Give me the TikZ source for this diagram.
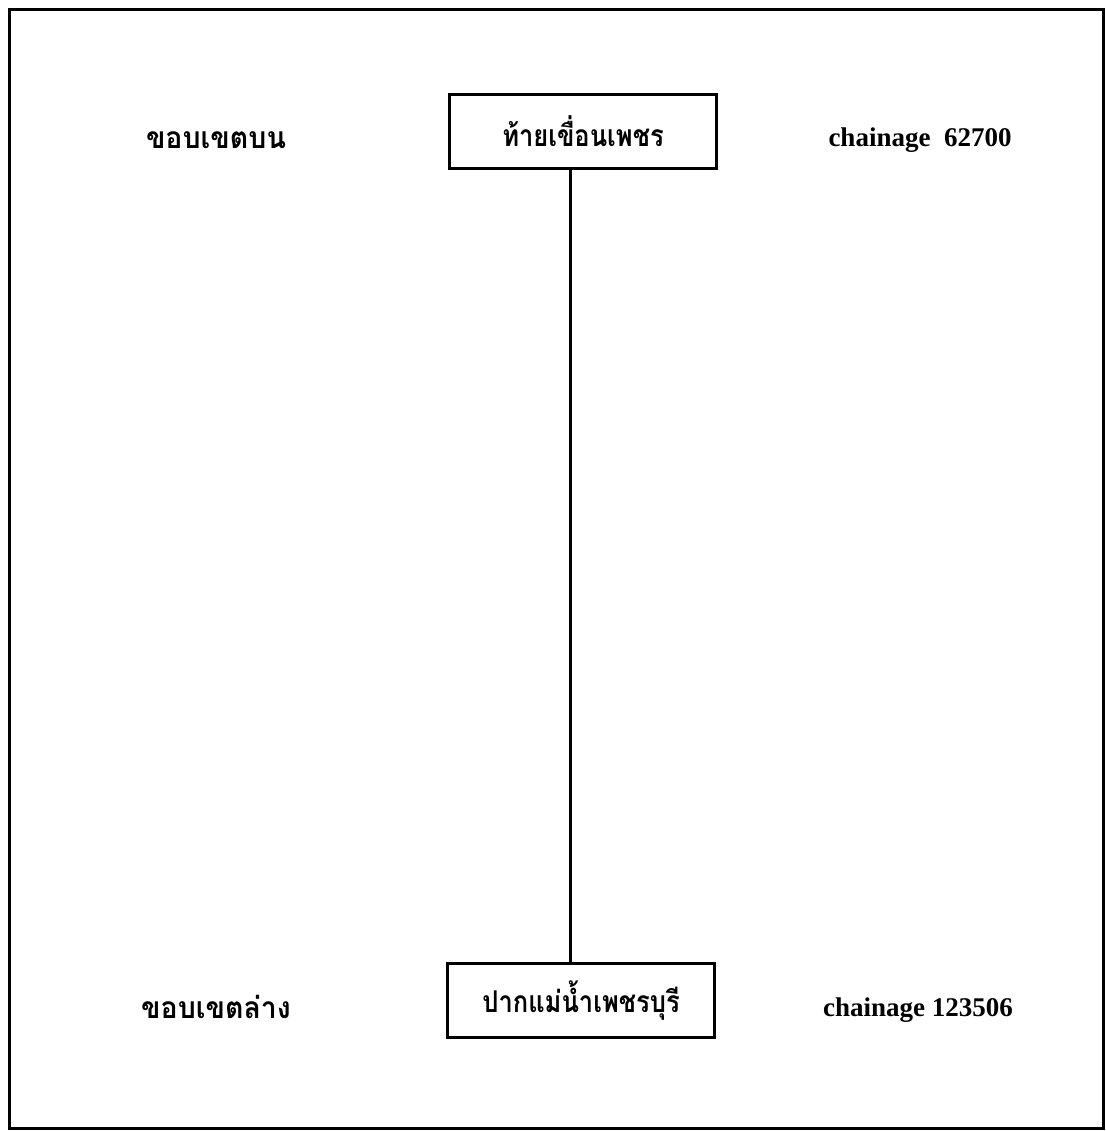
\documentclass[tikz,border=0pt]{standalone}
\usepackage{fontspec}
\setmainfont{Liberation Serif}
\newfontfamily\thaifont[Script=Thai,FakeStretch=0.95]{Loma}
\newfontfamily\thainarrow[Script=Thai,FakeStretch=0.85]{Loma}
\usetikzlibrary{positioning}

\begin{document}
\begin{tikzpicture}[x=0.5pt,y=-0.5pt,
  boxnode/.style={draw, line width=1.5pt, inner sep=0pt, minimum width=133.5pt, minimum height=37pt, font=\thainarrow\bfseries\fontsize{15}{18}\selectfont},
  thailabel/.style={inner sep=0pt, font=\thaifont\bfseries\fontsize{15}{18}\selectfont},
  chlabel/.style={inner sep=0pt, font=\bfseries\fontsize{13.5}{16}\selectfont}]
\useasboundingbox (0,0) rectangle (1105,1131);

%%%%%%%%%% Frame %%%%%%%%
\draw[line width=1.5pt] (9,9) rectangle (1103,1128);

%%%%%%%%%% Reaches %%%%%%%%
{
\node[boxnode] (upper) at (583,131.5) {\raisebox{-1.5pt}{ท้ายเขื่อนเพชร}};
\node[boxnode] (lower) at (581,1000.5) {ปากแม่น้ำเพชรบุรี};
}

%%%%%%%%%% River line %%%%%%%%
{
\coordinate (river) at (570,500);
\draw[line width=1.5pt] (upper.south -| river) -- (lower.north -| river);
}

%%%%%%%%%% Labels %%%%%%%%
{
\node[thailabel] (uplabel) at (216,140) {ขอบเขตบน};
\node[thailabel] (lowlabel) at (216,1007) {ขอบเขตล่าง};
\node[chlabel] (upch) at (920,140) {chainage\ \ 62700};
\node[chlabel] (lowch) at (918,1010) {chainage 123506};
}
\end{tikzpicture}
\end{document}
